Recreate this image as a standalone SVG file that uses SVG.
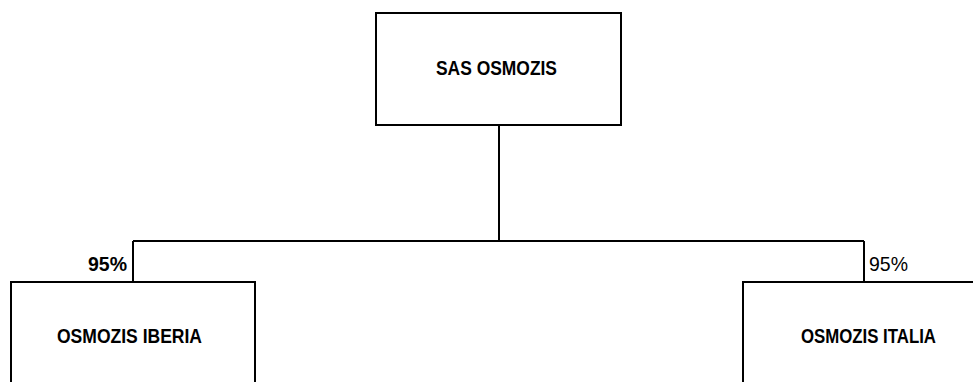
<svg xmlns="http://www.w3.org/2000/svg" width="973" height="382" viewBox="0 0 973 382">
<style>
.box{fill:#fff;stroke:#000;stroke-width:2}
.conn{fill:none;stroke:#000;stroke-width:2}
.t{font-family:"Liberation Sans",Arial,sans-serif;font-weight:bold;font-size:21px;fill:#000}
.p{font-family:"Liberation Sans",Arial,sans-serif;font-size:21px;fill:#000}
</style>
<rect width="973" height="382" fill="#fff"/>
<g id="connectors">
<path class="conn" d="M499 125 V241 M133 241 H864 M133 241 V282 M864 241 V282"/>
</g>
<g id="sas">
<rect class="box" x="376" y="13" width="245" height="112"/>
<text class="t" x="436" y="75" textLength="121" lengthAdjust="spacingAndGlyphs">SAS OSMOZIS</text>
</g>
<g id="iberia">
<rect class="box" x="11" y="282" width="244" height="110"/>
<text class="t" x="57" y="343" textLength="145" lengthAdjust="spacingAndGlyphs">OSMOZIS IBERIA</text>
<text class="t" x="88" y="271" textLength="39" lengthAdjust="spacingAndGlyphs">95%</text>
</g>
<g id="italia">
<rect class="box" x="743" y="282" width="240" height="110"/>
<text class="t" x="801" y="343" textLength="135" lengthAdjust="spacingAndGlyphs">OSMOZIS ITALIA</text>
<text class="p" x="869" y="271" textLength="39" lengthAdjust="spacingAndGlyphs">95%</text>
</g>
</svg>
